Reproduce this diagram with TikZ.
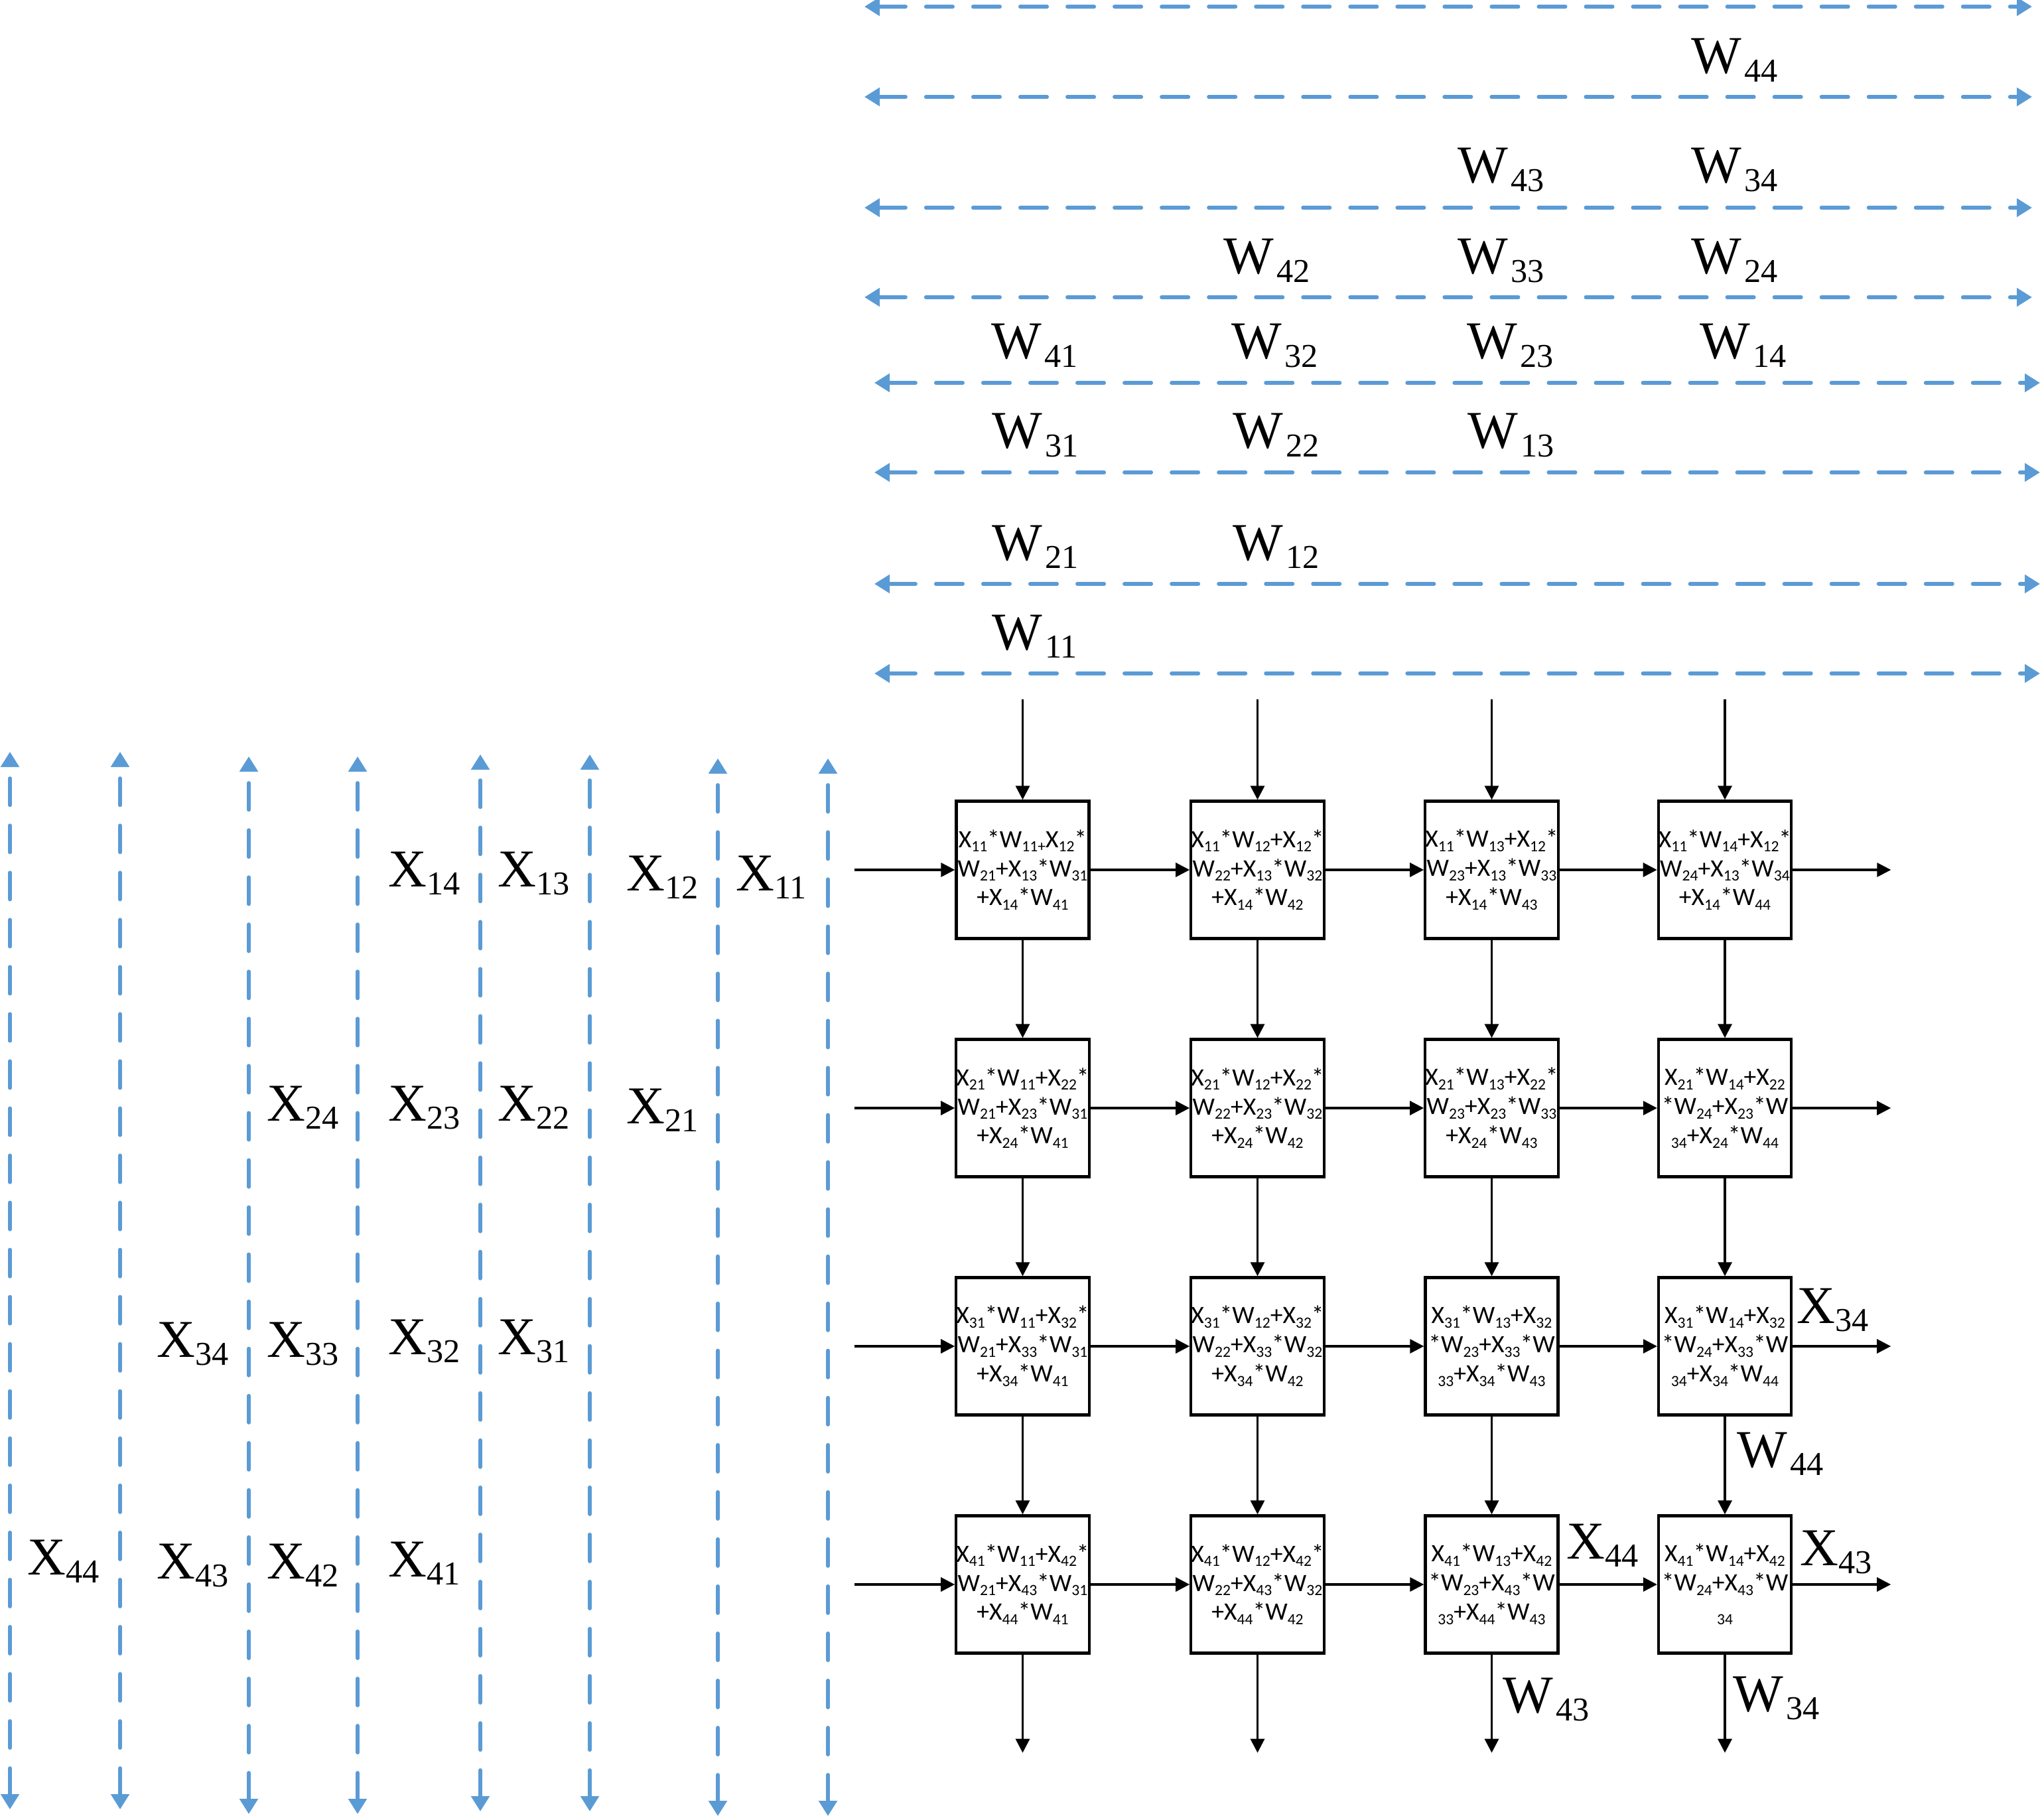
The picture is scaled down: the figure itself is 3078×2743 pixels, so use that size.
\documentclass[tikz,border=0pt]{standalone}
\usepackage{fontspec}
\setmainfont{Liberation Serif}
\newfontfamily\boxfont{Carlito}
\usetikzlibrary{arrows.meta}
\definecolor{lblue}{RGB}{91,155,213}
% label subscripts
\newcommand{\lsub}[1]{\raisebox{-0.16em}{\fontsize{14.3}{15}\selectfont #1}}
\newcommand{\LX}[1]{X\lsub{#1}}
\newcommand{\LW}[1]{W\kern0.05em\lsub{#1}}
% box subscripts
\newcommand{\bsb}[1]{\raisebox{-1.9pt}{\fontsize{6.7}{7}\selectfont #1}}
\newcommand{\BX}[1]{X\bsb{#1}}
\newcommand{\BW}[1]{W\bsb{#1}}
\begin{document}
\begin{tikzpicture}[x=0.01cm,y=-0.01cm,
  pe/.style={draw,line width=1.2pt,minimum width=2cm,minimum height=2.07cm,inner sep=0pt,align=center,
    font={\boxfont\fontsize{10.7}{12.5}\selectfont}},
  conn/.style={draw,line width=0.95pt,-{Triangle[length=0.21cm,width=0.21cm]}},
  bluedash/.style={draw=lblue,line width=0.055cm,dash pattern=on 0.405cm off 0.305cm,line cap=round,
    {Triangle[length=0.23cm,width=0.27cm]}-{Triangle[length=0.23cm,width=0.27cm]}},
  lab/.style={anchor=base west,inner sep=0pt,font={\fontsize{22.8}{24}\selectfont}}]
\useasboundingbox (0,0) rectangle (3078,2743);

% horizontal dashed lines
\foreach \i/\yy in {1/10,2/146,3/313,4/448}{
  \coordinate (hl\i) at (1303,\yy); \coordinate (hr\i) at (3063,\yy);
  \draw[bluedash] (hl\i) -- (hr\i);}
\foreach \i/\yy in {5/577,6/712,7/880,8/1015}{
  \coordinate (hl\i) at (1318,\yy); \coordinate (hr\i) at (3075,\yy);
  \draw[bluedash] (hl\i) -- (hr\i);}

% vertical dashed lines
\foreach \i/\xx/\ya/\yb in {1/15/1133/2727,2/181/1133/2727,3/375/1140/2734,4/539/1140/2734,
  5/724/1137/2730,6/889/1137/2730,7/1082/1143/2737,8/1248/1143/2737}{
  \coordinate (vt\i) at (\xx,\ya); \coordinate (vb\i) at (\xx,\yb);
  \draw[bluedash] (vb\i) -- (vt\i);}

% processing elements
\node[pe] (b11) at (1541.5,1311) {\BX{11}*\BW{11}\bsb{+}\BX{12}*\\\BW{21}+\BX{13}*\BW{31}\\+\BX{14}*\BW{41}};
\node[pe] (b12) at (1895.5,1311) {\BX{11}*\BW{12}+\BX{12}*\\\BW{22}+\BX{13}*\BW{32}\\+\BX{14}*\BW{42}};
\node[pe] (b13) at (2248.5,1311) {\BX{11}*\BW{13}+\BX{12}*\\\BW{23}+\BX{13}*\BW{33}\\+\BX{14}*\BW{43}};
\node[pe] (b14) at (2600,1311) {\BX{11}*\BW{14}+\BX{12}*\\\BW{24}+\BX{13}*\BW{34}\\+\BX{14}*\BW{44}};

\node[pe] (b21) at (1541.5,1670) {\BX{21}*\BW{11}+\BX{22}*\\\BW{21}+\BX{23}*\BW{31}\\+\BX{24}*\BW{41}};
\node[pe] (b22) at (1895.5,1670) {\BX{21}*\BW{12}+\BX{22}*\\\BW{22}+\BX{23}*\BW{32}\\+\BX{24}*\BW{42}};
\node[pe] (b23) at (2248.5,1670) {\BX{21}*\BW{13}+\BX{22}*\\\BW{23}+\BX{23}*\BW{33}\\+\BX{24}*\BW{43}};
\node[pe] (b24) at (2600,1670) {\BX{21}*\BW{14}+\BX{22}\\*\BW{24}+\BX{23}*W\\\bsb{34}+\BX{24}*\BW{44}};

\node[pe] (b31) at (1541.5,2029) {\BX{31}*\BW{11}+\BX{32}*\\\BW{21}+\BX{33}*\BW{31}\\+\BX{34}*\BW{41}};
\node[pe] (b32) at (1895.5,2029) {\BX{31}*\BW{12}+\BX{32}*\\\BW{22}+\BX{33}*\BW{32}\\+\BX{34}*\BW{42}};
\node[pe] (b33) at (2248.5,2029) {\BX{31}*\BW{13}+\BX{32}\\*\BW{23}+\BX{33}*W\\\bsb{33}+\BX{34}*\BW{43}};
\node[pe] (b34) at (2600,2029) {\BX{31}*\BW{14}+\BX{32}\\*\BW{24}+\BX{33}*W\\\bsb{34}+\BX{34}*\BW{44}};

\node[pe] (b41) at (1541.5,2388) {\BX{41}*\BW{11}+\BX{42}*\\\BW{21}+\BX{43}*\BW{31}\\+\BX{44}*\BW{41}};
\node[pe] (b42) at (1895.5,2388) {\BX{41}*\BW{12}+\BX{42}*\\\BW{22}+\BX{43}*\BW{32}\\+\BX{44}*\BW{42}};
\node[pe] (b43) at (2248.5,2388) {\BX{41}*\BW{13}+\BX{42}\\*\BW{23}+\BX{43}*W\\\bsb{33}+\BX{44}*\BW{43}};
\node[pe] (b44) at (2600,2388) {\BX{41}*\BW{14}+\BX{42}\\*\BW{24}+\BX{43}*W\\\bsb{34}};

% connectors
\foreach \c in {1,...,4}{
  \path (b1\c.north) ++(0,-151) coordinate (t\c);
  \path (b4\c.south) ++(0,148) coordinate (d\c);
  \draw[conn] (t\c) -- (b1\c.north);
  \draw[conn] (b4\c.south) -- (d\c);
  \foreach \r/\n in {1/2,2/3,3/4}{\draw[conn] (b\r\c.south) -- (b\n\c.north);}
}
\foreach \r in {1,...,4}{
  \path (b\r1.west) ++(-151,0) coordinate (l\r);
  \path (b\r4.east) ++(148,0) coordinate (o\r);
  \draw[conn] (l\r) -- (b\r1.west);
  \draw[conn] (b\r4.east) -- (o\r);
  \foreach \c/\n in {1/2,2/3,3/4}{\draw[conn] (b\r\c.east) -- (b\r\n.west);}
}

% X labels (left)
\node[lab] (x14) at (585,1336) {\LX{14}};
\node[lab] (x13) at (750,1336) {\LX{13}};
\node[lab] (x12) at (944,1342) {\LX{12}};
\node[lab] (x11) at (1109,1342) {\LX{11}};
\node[lab] (x24) at (402,1689) {\LX{24}};
\node[lab] (x23) at (585,1689) {\LX{23}};
\node[lab] (x22) at (750,1689) {\LX{22}};
\node[lab] (x21) at (944,1693) {\LX{21}};
\node[lab] (x34) at (236,2045) {\LX{34}};
\node[lab] (x33) at (402,2045) {\LX{33}};
\node[lab] (x32) at (585,2041) {\LX{32}};
\node[lab] (x31) at (750,2041) {\LX{31}};
\node[lab] (x44) at (41,2373) {\LX{44}};
\node[lab] (x43) at (236,2379) {\LX{43}};
\node[lab] (x42) at (402,2379) {\LX{42}};
\node[lab] (x41) at (585,2376) {\LX{41}};

% W labels (top)
\node[lab] (w44) at (2549,111) {\LW{44}};
\node[lab] (w43) at (2197,276) {\LW{43}};
\node[lab] (w34) at (2549,276) {\LW{34}};
\node[lab] (w42) at (1844,413) {\LW{42}};
\node[lab] (w33) at (2197,413) {\LW{33}};
\node[lab] (w24) at (2549,413) {\LW{24}};
\node[lab] (w41) at (1494,541) {\LW{41}};
\node[lab] (w32) at (1856,541) {\LW{32}};
\node[lab] (w23) at (2211,541) {\LW{23}};
\node[lab] (w14) at (2562,541) {\LW{14}};
\node[lab] (w31) at (1495,676) {\LW{31}};
\node[lab] (w22) at (1858,676) {\LW{22}};
\node[lab] (w13) at (2212,676) {\LW{13}};
\node[lab] (w21) at (1495,844) {\LW{21}};
\node[lab] (w12) at (1858,844) {\LW{12}};
\node[lab] (w11) at (1495,979) {\LW{11}};

% labels near the array
\node[lab] (rx34) at (2708,1994) {\LX{34}};
\node[lab] (rw44) at (2618,2211) {\LW{44}};
\node[lab] (rx44) at (2361,2349) {\LX{44}};
\node[lab] (rx43) at (2713,2359) {\LX{43}};
\node[lab] (rw43) at (2265,2581) {\LW{43}};
\node[lab] (rw34) at (2612,2579) {\LW{34}};
\end{tikzpicture}
\end{document}
